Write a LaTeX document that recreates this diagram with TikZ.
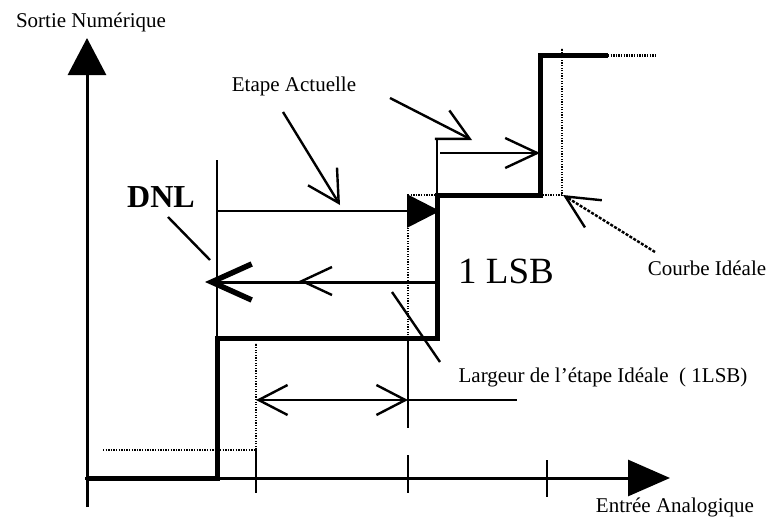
\documentclass[tikz,border=0pt]{standalone}
\usepackage{fontspec}
\setmainfont{Liberation Serif}
\usetikzlibrary{arrows.meta}
\begin{document}
\begin{tikzpicture}[x=1pt,y=-1pt,
  thickstep/.style={line width=5pt, line join=miter, line cap=butt},
  thinline/.style={line width=2.4pt},
  axisline/.style={line width=3pt},
  idealdot/.style={line width=2.2pt, dash pattern=on 1.3pt off 1.3pt},
  lbl/.style={font=\fontsize{21}{21}\selectfont, inner sep=0pt},
  barbtip/.style 2 args={-{Straight Barb[length=#1pt,width=#2pt]}},
]
\useasboundingbox (0,0) rectangle (772,525);

% ---- axes ----
\coordinate (yb) at (87,507);
\coordinate (yt) at (87,38);
\coordinate (xl) at (85,478);
\coordinate (xr) at (670,478);
\draw[axisline, -{Triangle[length=37pt,width=38pt]}] (yb) -- (yt);
\draw[axisline, -{Triangle[length=42pt,width=36pt]}] (xl) -- (xr);

% ticks
\coordinate (t1a) at (256,450); \coordinate (t1b) at (256,493);
\coordinate (t2a) at (408,455); \coordinate (t2b) at (408,493);
\coordinate (t3a) at (547,460); \coordinate (t3b) at (547,497);
\draw[thinline] (t1a) -- (t1b);
\draw[thinline] (t2a) -- (t2b);
\draw[thinline] (t3a) -- (t3b);

% ---- actual staircase ----
\coordinate (s0) at (87,478);
\coordinate (s1) at (217,478);
\coordinate (s2) at (217,338);
\coordinate (s3) at (437,338);
\coordinate (s4) at (437,195);
\coordinate (s5) at (540,195);
\coordinate (s6) at (540,55);
\coordinate (s7) at (608,55);
\coordinate (s8) at (657,55);
\draw[thickstep] (s0) -- (s1) -- (s2) -- (s3) -- (s4) -- (s5) -- (s6) -- (s7);
\draw[idealdot, line width=3pt] (s7) -- (s8);

% ---- ideal curve (dotted) ----
\coordinate (i0) at (103,450);
\coordinate (i1) at (256,450);
\coordinate (i2) at (256,343);
\coordinate (i3) at (408,338);
\coordinate (i4) at (408,195);
\coordinate (i5) at (437,195);
\coordinate (i6) at (540,195);
\coordinate (i7) at (562,195);
\coordinate (i8) at (562,48);
\draw[idealdot] (i0) -- (i1) -- (i2);
\draw[idealdot] (i3) -- (i4) -- (i5);
\draw[idealdot] (i6) -- (i7) -- (i8);

% ---- construction lines ----
\coordinate (v1) at (217,160);
\draw[thinline] (s2) -- (v1);
\coordinate (v2) at (437,140);
\draw[thinline] (s4) -- (v2);
\coordinate (v3) at (408,428);
\draw[thinline] (i3) -- (v3);

% actual step width (filled arrow)
\coordinate (a1) at (217,211);
\coordinate (a2) at (440,211);
\draw[line width=2.8pt, -{Triangle[length=33pt,width=33pt]}] (a1) -- (a2);

% DNL arrow
\coordinate (d1) at (437,282);
\coordinate (d2) at (205,282);
\draw[line width=3pt, -{Straight Barb[length=40pt,width=36pt,line width=5.5pt]}] (d1) -- (d2);
\coordinate (c1) at (332,267); \coordinate (c2) at (302,281); \coordinate (c3) at (332,295);
\draw[thinline] (c1) -- (c2) -- (c3);

% upper step arrow
\coordinate (u1) at (440,153);
\coordinate (u2) at (540,153);
\draw[thinline, barbtip={32}{30}] (u1) -- (u2);

% ideal width dimension
\coordinate (w1) at (256,400);
\coordinate (w2) at (408,400);
\coordinate (w3) at (517,400);
\draw[thinline, {Straight Barb[length=29pt,width=30pt]}-{Straight Barb[length=29pt,width=30pt]}] (w1) -- (w2);
\draw[thinline] (w2) -- (w3);

% ---- labels ----
\node[lbl] (ylab) at (91,22) {Sortie Numérique};
\node[lbl] (etape) at (294,86) {Etape Actuelle};
\node[font=\bfseries\fontsize{32}{32}\selectfont, inner sep=0pt] (dnl) at (161,197) {DNL};
\node[font=\fontsize{37}{37}\selectfont, inner sep=0pt] (lsb) at (506,271) {1 LSB};
\node[lbl] (courbe) at (707,268) {Courbe Idéale};
\node[lbl] (larg) at (603,377) {Largeur de l'étape Idéale~~( 1LSB)};
\node[lbl] (xlab) at (675,507) {Entrée Analogique};

% ---- pointers ----
\coordinate (p1a) at (283,112);
\coordinate (p1b) at (340,205);
\draw[thinline, barbtip={31}{34}] (p1a) -- (p1b);
\coordinate (p2a) at (390,98);
\coordinate (p2b) at (472,140);
\draw[thinline, barbtip={31}{32}] (p2a) -- (p2b);
\coordinate (p3a) at (168,217);
\coordinate (p3b) at (210,260);
\draw[thinline] (p3a) -- (p3b);
\coordinate (p4a) at (392,292);
\coordinate (p4b) at (440,362);
\draw[thinline] (p4a) -- (p4b);
\coordinate (p5a) at (655,252);
\coordinate (p5b) at (563,195);
\draw[thinline, dash pattern=on 3pt off 1.5pt, barbtip={33}{32}] (p5a) -- (p5b);
\end{tikzpicture}
\end{document}
